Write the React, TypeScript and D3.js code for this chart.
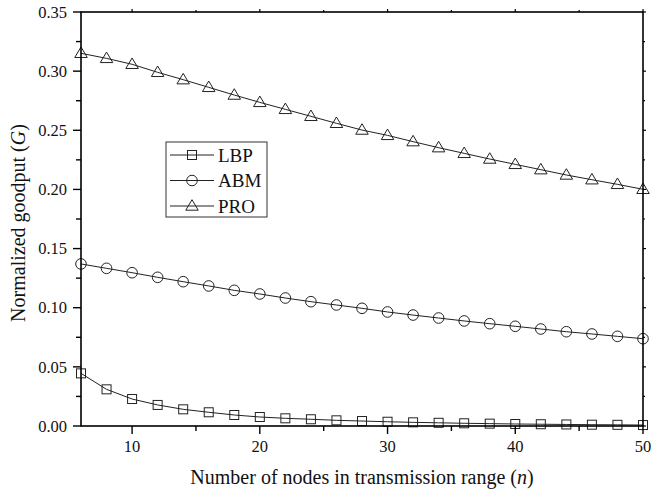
import React from 'react';
import * as d3 from 'd3';

// x: number of nodes in transmission range
const nodes = [6, 8, 10, 12, 14, 16, 18, 20, 22, 24, 26, 28, 30, 32, 34, 36, 38, 40, 42, 44, 46, 48, 50];

const lbp = [0.0445, 0.0310, 0.0228, 0.0178, 0.0141, 0.0116, 0.0093, 0.0076, 0.0065, 0.0057, 0.0048, 0.0042,
  0.0036, 0.0031, 0.0027, 0.0023, 0.0020, 0.0017, 0.0015, 0.0013, 0.0011, 0.0010, 0.0008];
const abm = [0.1370, 0.1333, 0.1296, 0.1257, 0.1220, 0.1184, 0.1147, 0.1116, 0.1082, 0.1051, 0.1023, 0.0995,
  0.0964, 0.0938, 0.0913, 0.0888, 0.0865, 0.0843, 0.0820, 0.0797, 0.0778, 0.0758, 0.0738];
const pro = [0.3151, 0.3108, 0.3058, 0.2990, 0.2928, 0.2863, 0.2798, 0.2736, 0.2677, 0.2618, 0.2559, 0.2502,
  0.2457, 0.2404, 0.2353, 0.2305, 0.2257, 0.2212, 0.2167, 0.2122, 0.2082, 0.2043, 0.2001];

const seriesNames = ['LBP', 'ABM', 'PRO'];
const seriesShapes = ['square', 'circle', 'triangle'];

const xMajor = [10, 20, 30, 40, 50];
const xMinor = [15, 25, 35, 45];
const yMajor = [0, 0.05, 0.1, 0.15, 0.2, 0.25, 0.3, 0.35];
const yMinor = [0.025, 0.075, 0.125, 0.175, 0.225, 0.275, 0.325];

const FONT = '"Liberation Serif", "Times New Roman", serif';
const INK = '#222';

function Marker({ shape, x, y }: { shape: string; x: number; y: number }) {
  if (shape === 'square') {
    return <rect x={x - 4.5} y={y - 4.5} width={9} height={9} fill="none" stroke={INK} strokeWidth={1} />;
  }
  if (shape === 'circle') {
    return <circle cx={x} cy={y} r={5.3} fill="none" stroke={INK} strokeWidth={1} />;
  }
  const h = 10.5, w = 12.5;
  const pts = [[x, y - h * 0.6], [x - w / 2, y + h * 0.4], [x + w / 2, y + h * 0.4]];
  return <polygon points={pts.map(p => p.join(',')).join(' ')} fill="none" stroke={INK} strokeWidth={1} />;
}

export default function App() {
  const width = 652, height = 492;
  const left = 81, right = 643, top = 12, bottom = 426;

  const x = d3.scaleLinear().domain([6, 50]).range([left, right]);
  const y = d3.scaleLinear().domain([0, 0.35]).range([bottom, top]);

  const line = d3.line<number>()
    .x((_, i) => x(nodes[i]))
    .y(d => y(d));

  const allSeries = [lbp, abm, pro];
  const fmt = d3.format('.2f');

  const legX = 166, legY = 142;

  return (
    <svg width={width} height={height} style={{ position: 'absolute', left: 0, top: 0, display: 'block' }} fontFamily={FONT}>
      <rect width={width} height={height} fill="#fff" />

      {allSeries.map((s, k) => (
        <g key={seriesNames[k]}>
          <path d={line(s) || ''} fill="none" stroke={INK} strokeWidth={1} />
          {s.map((v, i) => (
            <Marker key={i} shape={seriesShapes[k]} x={x(nodes[i])} y={y(v)} />
          ))}
        </g>
      ))}

      {/* frame */}
      <rect x={left} y={top} width={right - left} height={bottom - top} fill="none" stroke="#000" strokeWidth={1.6} />

      {/* x ticks */}
      {xMajor.map(t => (
        <g key={'xm' + t}>
          <line x1={x(t)} x2={x(t)} y1={bottom} y2={bottom + 8} stroke="#000" strokeWidth={1.4} />
          <line x1={x(t)} x2={x(t)} y1={top} y2={top - 3} stroke="#000" strokeWidth={1.2} />
          <text x={x(t)} y={bottom + 26} textAnchor="middle" fontSize={16.5} fill="#111">{t}</text>
        </g>
      ))}
      {xMinor.map(t => (
        <g key={'xn' + t}>
          <line x1={x(t)} x2={x(t)} y1={bottom} y2={bottom + 5} stroke="#000" strokeWidth={1.4} />
          <line x1={x(t)} x2={x(t)} y1={top} y2={top - 2} stroke="#000" strokeWidth={1.2} />
        </g>
      ))}

      {/* y ticks */}
      {yMajor.map(t => (
        <g key={'ym' + t}>
          <line x1={left - 8} x2={left} y1={y(t)} y2={y(t)} stroke="#000" strokeWidth={1.4} />
          <line x1={right} x2={right + 3} y1={y(t)} y2={y(t)} stroke="#000" strokeWidth={1.2} />
          <text x={left - 14} y={y(t)} dy="0.35em" textAnchor="end" fontSize={16.5} fill="#111">{fmt(t)}</text>
        </g>
      ))}
      {yMinor.map(t => (
        <g key={'yn' + t}>
          <line x1={left - 5} x2={left} y1={y(t)} y2={y(t)} stroke="#000" strokeWidth={1.4} />
          <line x1={right} x2={right + 2} y1={y(t)} y2={y(t)} stroke="#000" strokeWidth={1.2} />
        </g>
      ))}

      {/* axis titles */}
      <text x={362} y={bottom + 58} textAnchor="middle" fontSize={20} fill="#111">
        Number of nodes in transmission range (<tspan fontStyle="italic">n</tspan>)
      </text>
      <text transform={`translate(18,${(top + bottom) / 2 + 4}) rotate(-90)`} dy="0.35em" textAnchor="middle" fontSize={20} fill="#111">
        Normalized goodput (<tspan fontStyle="italic">G</tspan>)
      </text>

      {/* legend */}
      <rect x={legX} y={legY} width={101} height={75} fill="#fff" stroke="#333" strokeWidth={1} />
      {seriesNames.map((name, k) => {
        const cy = legY + 13 + k * 25.5;
        return (
          <g key={'leg' + name}>
            <line x1={legX + 4} x2={legX + 48} y1={cy} y2={cy} stroke={INK} strokeWidth={1} />
            <Marker shape={seriesShapes[k]} x={legX + 26} y={cy} />
            <text x={legX + 52} y={cy} dy="0.35em" fontSize={19} fill="#111">{name}</text>
          </g>
        );
      })}
    </svg>
  );
}
